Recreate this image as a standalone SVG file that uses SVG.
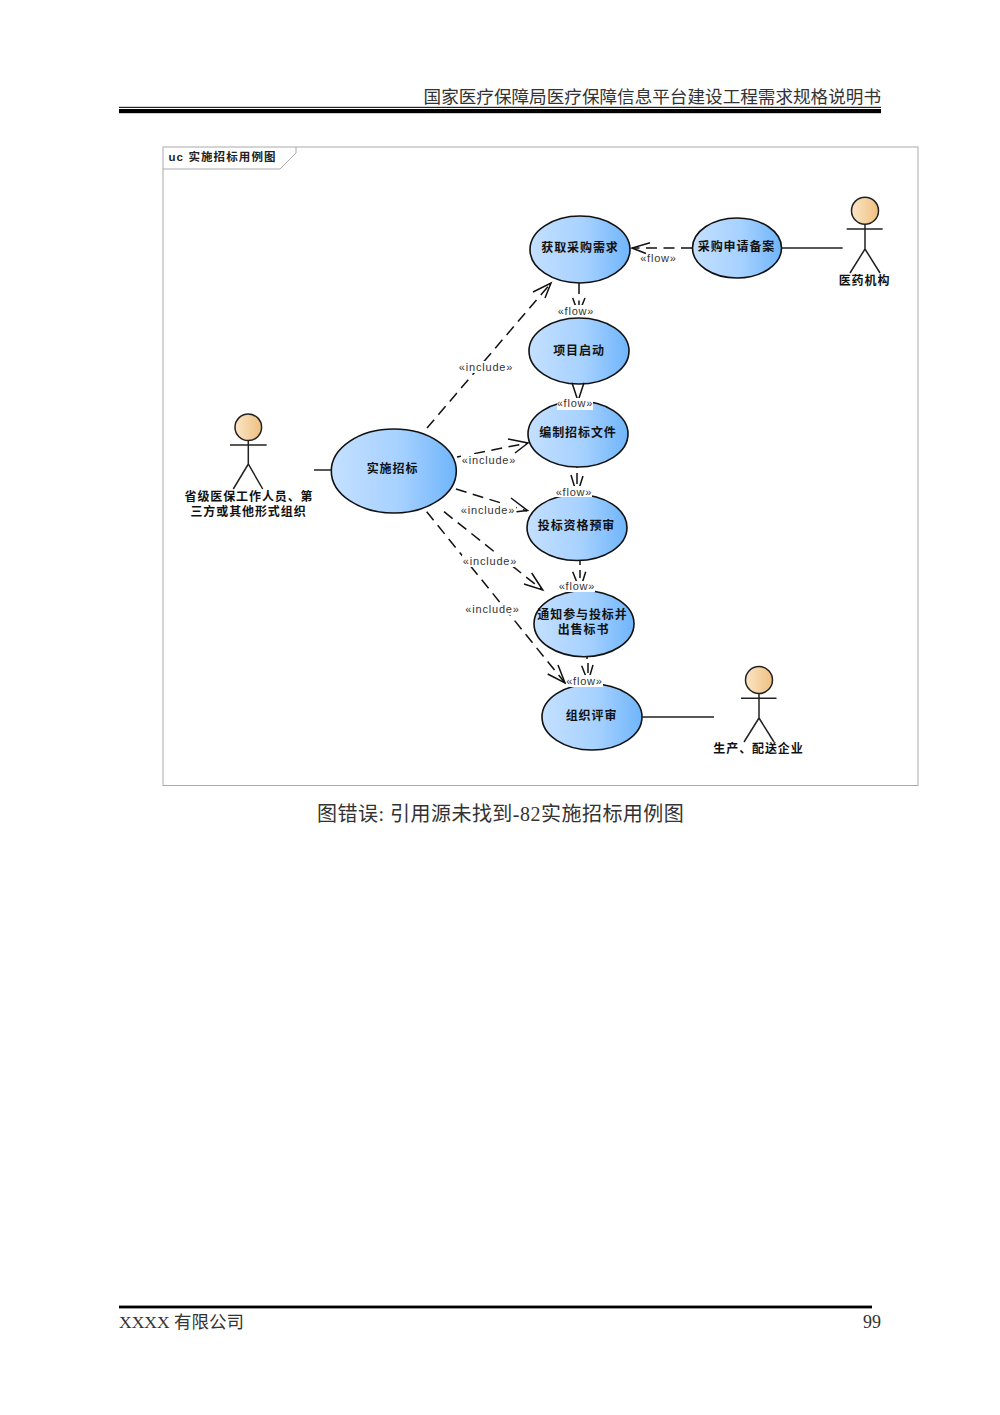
<svg xmlns="http://www.w3.org/2000/svg" width="1000" height="1415" viewBox="0 0 1000 1415">
<defs>
<linearGradient id="uc"><stop offset="0" stop-color="#c4e0ff"/><stop offset="0.55" stop-color="#a6d1ff"/><stop offset="1" stop-color="#6fb5fb"/></linearGradient>
<linearGradient id="head"><stop offset="0" stop-color="#fbe6c6"/><stop offset="1" stop-color="#eebf80"/></linearGradient>
</defs>
<style>
.u{fill:url(#uc);stroke:#111;stroke-width:1.6}
.h{fill:url(#head);stroke:#222;stroke-width:1.5}
.a{fill:none;stroke:#222;stroke-width:1.5}
.t{font-family:"Liberation Sans","Noto Sans CJK SC",sans-serif;font-weight:700;font-size:12px;letter-spacing:.9px;text-anchor:middle;fill:#111}
.d{fill:none;stroke:#111;stroke-width:1.5;stroke-dasharray:11 6.500}
.o{fill:none;stroke:#111;stroke-width:1.5}
.s{fill:none;stroke:#222;stroke-width:1.6}
.l{font-family:"Liberation Sans",sans-serif;font-size:11px;letter-spacing:.8px;text-anchor:middle;fill:#333}
.b{fill:#fff}
.p{font-family:"Liberation Serif","Noto Sans CJK SC",serif;fill:#333}
</style>
<g id="page">
<rect width="1000" height="1415" fill="#fff"/>
<text class="p" x="881" y="103" font-size="17.6" text-anchor="end">国家医疗保障局医疗保障信息平台建设工程需求规格说明书</text>
<rect x="119" y="106.8" width="762" height="1.2" fill="#222"/>
<rect x="119" y="109" width="762" height="4.2" fill="#000"/>
<text class="p" x="317" y="821" font-size="20" letter-spacing=".48" fill="#222">图错误: 引用源未找到-82实施招标用例图</text>
<rect x="119" y="1305.6" width="753" height="2.8" fill="#000"/>
<text class="p" x="119" y="1328" font-size="17.5">XXXX 有限公司</text>
<text class="p" x="881" y="1328" font-size="18" text-anchor="end">99</text>
</g>
<g id="frame">
<rect x="163" y="147" width="755" height="638.500" fill="#fff" stroke="#aaa" stroke-width="1"/>
<path d="M163 169H280L296 153V147" fill="none" stroke="#aaa" stroke-width="1"/>
<text x="168.500" y="161" font-family="Liberation Sans,Noto Sans CJK SC,sans-serif" font-weight="700" font-size="11.500" letter-spacing="1.100" fill="#222">uc 实施招标用例图</text>
</g>
<g id="uc-main"><ellipse class="u" cx="393.800" cy="471" rx="62.500" ry="42"/><text class="t" x="392.500" y="473">实施招标</text></g>
<g id="uc-need"><ellipse class="u" cx="580" cy="249.500" rx="50" ry="33.500"/><text class="t" x="580" y="252">获取采购需求</text></g>
<g id="uc-filing"><ellipse class="u" cx="737" cy="248" rx="44.500" ry="30"/><text class="t" x="736.500" y="251">采购申请备案</text></g>
<g id="uc-start"><ellipse class="u" cx="579" cy="351" rx="50" ry="33"/><text class="t" x="579" y="354.500">项目启动</text></g>
<g id="uc-doc"><ellipse class="u" cx="578" cy="434" rx="50" ry="33"/><text class="t" x="578" y="436.500">编制招标文件</text></g>
<g id="uc-qual"><ellipse class="u" cx="577" cy="527.500" rx="50" ry="33"/><text class="t" x="576.500" y="530">投标资格预审</text></g>
<g id="uc-notice"><ellipse class="u" cx="584" cy="623.700" rx="50" ry="33"/><text class="t" x="582.500" y="619">通知参与投标并</text><text class="t" x="583.500" y="634">出售标书</text></g>
<g id="uc-review"><ellipse class="u" cx="592" cy="717" rx="50" ry="33"/><text class="t" x="591.500" y="719.500">组织评审</text></g>
<g id="actor-province">
<circle class="h" cx="248.300" cy="427.300" r="13.300"/>
<path class="a" d="M230 445H266.700M248.300 440.600V464M233.300 489L248.300 464L262.700 489"/>
<text class="t" x="249" y="501">省级医保工作人员、第</text><text class="t" x="248.500" y="516">三方或其他形式组织</text>
</g>
<g id="actor-hospital">
<circle class="h" cx="865" cy="210.700" r="13.500"/>
<path class="a" d="M846.700 229H882.700M865 224.200V249M850 273L865 249L880 273"/>
<text class="t" x="864.500" y="285">医药机构</text>
</g>
<g id="actor-enterprise">
<circle class="h" cx="759" cy="680" r="13.500"/>
<path class="a" d="M741 698.300H776.500M759 693.500V718M744 742L759 718L774 742"/>
<text class="t" x="758.500" y="753">生产、配送企业</text>
</g>
<g id="connectors">
<path class="s" d="M314 470H331M781.500 248H842.700M642 717H714"/>
<path class="d" d="M427 428L551 283"/><path class="o" d="M533 292L551 283L545 298"/>
<path class="d" d="M457 457L528 443"/><path class="o" d="M508 439L528 443L515 453"/>
<path class="d" d="M456 489L527 511"/><path class="o" d="M511 498L527.500 510.500L516.500 511.700"/>
<path class="d" d="M444 511.700L542.500 590"/><path class="o" d="M531.700 573L542.700 590L524 584"/>
<path class="d" d="M426.700 511.700L565 683"/><path class="o" d="M558 665L565 683L547.700 674"/>
<path class="d" d="M692 248H632"/><path class="o" d="M650 242.700L632 248L646 253.500"/>
<path class="d" d="M579 283V318"/><path class="o" d="M572.700 298L578.500 314L585 298"/>
<path class="o" stroke-width="1.800" d="M572 382.700L578 401L584 382.700"/>
<path class="o" d="M577 467V468M577 473V484M571 475L577 495L583 476"/>
<path class="o" d="M580 561V565M580 570V578M572.700 571.700L580 590L585.700 571.700"/>
<path class="o" d="M587 656V659M588 663V673M581.700 665.700L588 682L593 665"/>
<g id="connector-labels">
<rect class="b" x="458" y="361" width="56" height="12"/><text class="l" x="486" y="371">«include»</text>
<rect class="b" x="461" y="454" width="56" height="12"/><text class="l" x="489" y="464">«include»</text>
<rect class="b" x="460" y="504" width="56" height="12"/><text class="l" x="488" y="514">«include»</text>
<rect class="b" x="462" y="555" width="56" height="12"/><text class="l" x="490" y="565">«include»</text>
<rect class="b" x="464" y="603" width="56" height="12"/><text class="l" x="492.500" y="613">«include»</text>
<text class="l" x="658.500" y="262">«flow»</text>
<rect class="b" x="557" y="305" width="37" height="12"/><text class="l" x="576" y="315">«flow»</text>
<rect class="b" x="557" y="398" width="36" height="12"/><text class="l" x="575" y="407">«flow»</text>
<rect class="b" x="555" y="486" width="37" height="11"/><text class="l" x="574" y="495.500">«flow»</text>
<rect class="b" x="559" y="581" width="36" height="11"/><text class="l" x="577" y="590">«flow»</text>
<rect class="b" x="566" y="675" width="37" height="12"/><text class="l" x="584.500" y="685">«flow»</text>
</g>
</g>
</svg>
